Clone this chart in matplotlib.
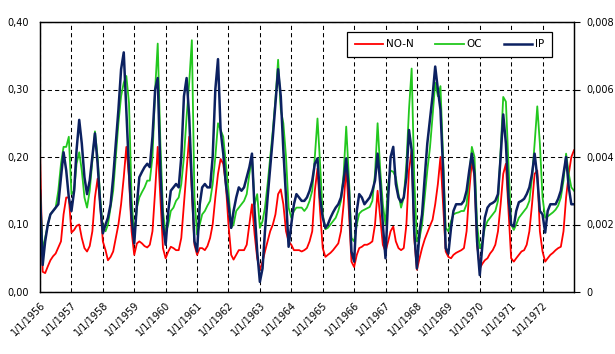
import pandas as pd
from matplotlib import pyplot as plt

# monthly values, 1956-01 .. 1973-01 (one row per year)
no_n = [
    0.21, 0.03, 0.028, 0.038, 0.047, 0.053, 0.057, 0.066, 0.075, 0.115, 0.14, 0.14,     # 1956
    0.088, 0.092, 0.098, 0.10, 0.08, 0.065, 0.06, 0.068, 0.09, 0.14, 0.168, 0.13,       # 1957
    0.075, 0.062, 0.047, 0.052, 0.06, 0.08, 0.10, 0.13, 0.17, 0.215, 0.17, 0.09,        # 1958
    0.055, 0.072, 0.075, 0.072, 0.068, 0.066, 0.07, 0.09, 0.15, 0.215, 0.14, 0.065,     # 1959
    0.05, 0.06, 0.067, 0.065, 0.062, 0.062, 0.08, 0.13, 0.18, 0.23, 0.15, 0.07,         # 1960
    0.055, 0.065, 0.065, 0.062, 0.068, 0.08, 0.10, 0.14, 0.175, 0.197, 0.19, 0.16,      # 1961
    0.10, 0.055, 0.048, 0.055, 0.062, 0.062, 0.062, 0.07, 0.10, 0.13, 0.085, 0.05,      # 1962
    0.033, 0.045, 0.06, 0.075, 0.09, 0.10, 0.115, 0.145, 0.152, 0.13, 0.09, 0.075,      # 1963
    0.07, 0.062, 0.062, 0.062, 0.06, 0.062, 0.065, 0.075, 0.09, 0.15, 0.183, 0.12,      # 1964
    0.065, 0.052, 0.055, 0.058, 0.062, 0.067, 0.072, 0.09, 0.13, 0.185, 0.12, 0.045,    # 1965
    0.037, 0.055, 0.065, 0.067, 0.07, 0.07, 0.072, 0.075, 0.10, 0.15, 0.11, 0.07,       # 1966
    0.06, 0.075, 0.09, 0.097, 0.075, 0.065, 0.062, 0.065, 0.10, 0.18, 0.21, 0.08,       # 1967
    0.033, 0.05, 0.065, 0.078, 0.088, 0.098, 0.107, 0.13, 0.16, 0.20, 0.13, 0.06,       # 1968
    0.052, 0.05, 0.055, 0.058, 0.06, 0.062, 0.065, 0.09, 0.15, 0.194, 0.17, 0.07,       # 1969
    0.035, 0.042, 0.047, 0.05, 0.057, 0.062, 0.07, 0.09, 0.13, 0.175, 0.19, 0.12,       # 1970
    0.05, 0.045, 0.05, 0.055, 0.06, 0.062, 0.07, 0.09, 0.13, 0.175, 0.18, 0.09,         # 1971
    0.06, 0.045, 0.05, 0.055, 0.058, 0.062, 0.065, 0.067, 0.09, 0.14, 0.175, 0.20,      # 1972
    0.21,                                                                               # 1973
]

oc = [
    0.15, 0.062, 0.08, 0.10, 0.115, 0.12, 0.125, 0.15, 0.19, 0.215, 0.215, 0.23,        # 1956
    0.145, 0.15, 0.19, 0.207, 0.18, 0.14, 0.125, 0.15, 0.195, 0.238, 0.20, 0.14,        # 1957
    0.095, 0.09, 0.10, 0.125, 0.15, 0.20, 0.25, 0.29, 0.31, 0.32, 0.28, 0.14,           # 1958
    0.08, 0.125, 0.14, 0.148, 0.155, 0.165, 0.165, 0.20, 0.30, 0.368, 0.22, 0.12,       # 1959
    0.087, 0.10, 0.12, 0.125, 0.135, 0.14, 0.16, 0.20, 0.26, 0.31, 0.373, 0.14,         # 1960
    0.085, 0.10, 0.115, 0.12, 0.128, 0.135, 0.16, 0.20, 0.25, 0.24, 0.23, 0.19,         # 1961
    0.15, 0.095, 0.10, 0.12, 0.125, 0.13, 0.135, 0.145, 0.175, 0.20, 0.13, 0.145,       # 1962
    0.095, 0.105, 0.125, 0.16, 0.20, 0.24, 0.285, 0.344, 0.27, 0.25, 0.20, 0.125,       # 1963
    0.11, 0.12, 0.125, 0.125, 0.125, 0.12, 0.125, 0.135, 0.15, 0.20, 0.257, 0.19,       # 1964
    0.115, 0.093, 0.095, 0.10, 0.105, 0.11, 0.12, 0.135, 0.175, 0.245, 0.17, 0.08,      # 1965
    0.075, 0.10, 0.116, 0.12, 0.122, 0.124, 0.126, 0.135, 0.175, 0.25, 0.18, 0.13,      # 1966
    0.10, 0.16, 0.18, 0.178, 0.17, 0.145, 0.125, 0.14, 0.19, 0.27, 0.331, 0.17,         # 1967
    0.075, 0.08, 0.10, 0.14, 0.18, 0.214, 0.26, 0.31, 0.29, 0.305, 0.20, 0.095,         # 1968
    0.09, 0.105, 0.115, 0.117, 0.118, 0.12, 0.12, 0.13, 0.17, 0.215, 0.20, 0.10,        # 1969
    0.065, 0.075, 0.095, 0.105, 0.11, 0.115, 0.12, 0.135, 0.21, 0.289, 0.282, 0.19,     # 1970
    0.10, 0.092, 0.10, 0.11, 0.115, 0.12, 0.125, 0.135, 0.17, 0.22, 0.275, 0.22,        # 1971
    0.14, 0.11, 0.112, 0.115, 0.118, 0.122, 0.128, 0.14, 0.165, 0.205, 0.175, 0.155,    # 1972
    0.15,                                                                               # 1973
]

ip = [
    0.0030, 0.0008, 0.0015, 0.0020, 0.0023, 0.0024, 0.0025, 0.0026, 0.0034, 0.00414, 0.0036, 0.0028,   # 1956
    0.0024, 0.0030, 0.0042, 0.0051, 0.0044, 0.0034, 0.0029, 0.0033, 0.0040, 0.0047, 0.0038, 0.0026,    # 1957
    0.00174, 0.0020, 0.0022, 0.0026, 0.0034, 0.0044, 0.0054, 0.0066, 0.0071, 0.0054, 0.0036, 0.0022,   # 1958
    0.00144, 0.0026, 0.0034, 0.00356, 0.0037, 0.0038, 0.0037, 0.0046, 0.0060, 0.00634, 0.0036, 0.0020, # 1959
    0.0014, 0.0024, 0.0030, 0.0031, 0.0032, 0.0031, 0.0040, 0.0058, 0.00634, 0.0052, 0.0032, 0.0015,   # 1960
    0.0012, 0.0026, 0.0031, 0.0032, 0.0031, 0.0031, 0.0040, 0.0060, 0.0069, 0.0048, 0.0041, 0.0032,    # 1961
    0.0026, 0.0019, 0.0024, 0.0028, 0.0031, 0.0030, 0.0031, 0.0034, 0.0037, 0.0041, 0.0024, 0.0012,    # 1962
    0.0003, 0.0007, 0.0018, 0.0028, 0.00368, 0.0046, 0.0056, 0.0066, 0.0058, 0.0042, 0.0028, 0.00134,  # 1963
    0.0020, 0.0026, 0.0029, 0.0028, 0.0027, 0.0027, 0.0028, 0.0030, 0.0033, 0.0038, 0.00396, 0.0028,   # 1964
    0.0022, 0.0019, 0.0020, 0.0022, 0.00236, 0.0025, 0.0026, 0.0028, 0.0033, 0.00396, 0.0030, 0.0012,  # 1965
    0.0009, 0.0024, 0.0029, 0.0028, 0.0026, 0.0027, 0.0028, 0.0030, 0.0033, 0.0041, 0.0032, 0.0020,    # 1966
    0.0010, 0.0028, 0.0040, 0.0043, 0.0032, 0.0028, 0.00266, 0.0028, 0.0034, 0.0048, 0.0042, 0.0018,   # 1967
    0.0007, 0.0018, 0.0023, 0.0034, 0.0044, 0.0051, 0.0058, 0.00668, 0.0060, 0.0054, 0.0036, 0.0013,   # 1968
    0.00114, 0.0019, 0.0024, 0.0026, 0.0026, 0.0026, 0.0027, 0.0030, 0.0036, 0.0041, 0.0035, 0.0015,   # 1969
    0.0005, 0.0014, 0.0022, 0.0025, 0.0026, 0.00264, 0.0027, 0.0029, 0.0040, 0.00526, 0.0044, 0.0028,  # 1970
    0.0020, 0.00194, 0.0024, 0.00266, 0.0027, 0.00276, 0.0029, 0.0031, 0.0035, 0.0041, 0.0034, 0.0024, # 1971
    0.0023, 0.00176, 0.0024, 0.0026, 0.0026, 0.0026, 0.00276, 0.0030, 0.0035, 0.0040, 0.0031, 0.0026,  # 1972
    0.0026,                                                                                            # 1973
]

years = list(range(1956, 1973))
xtick_labels = ["1/1/%d" % y for y in years]
left_ticks = [0.0, 0.1, 0.2, 0.3, 0.4]
left_labels = ["0,00", "0,10", "0,20", "0,30", "0,40"]
right_ticks = [0.0, 0.002, 0.004, 0.006, 0.008]
right_labels = ["0", "0,002", "0,004", "0,006", "0,008"]


def main():
    dates = pd.date_range("1956-01-01", "1973-01-01", freq="MS")

    fig = plt.figure(figsize=(6.15, 3.54), dpi=100)
    ax = fig.add_axes([40 / 615, 1 - 292 / 354, 534 / 615, 270 / 354])
    ax2 = ax.twinx()

    l1, = ax.plot(dates, no_n, color="#FF0000", lw=1.3, label="NO-N")
    l2, = ax.plot(dates, oc, color="#22C81E", lw=1.3, label="OC")
    l3, = ax2.plot(dates, ip, color="#0C2161", lw=1.8, label="IP")

    ax.set_xlim(pd.Timestamp("1956-01-01"), pd.Timestamp("1973-01-01"))
    ax.set_ylim(0, 0.4)
    ax2.set_ylim(0, 0.008)

    ax.set_xticks([pd.Timestamp("%d-01-01" % y) for y in years])
    ax.set_xticklabels(xtick_labels, rotation=45, ha="right", va="top",
                       rotation_mode="anchor", fontsize=7)
    ax.set_yticks(left_ticks)
    ax.set_yticklabels(left_labels, fontsize=7)
    ax2.set_yticks(right_ticks)
    ax2.set_yticklabels(right_labels, fontsize=7)

    ax.tick_params(axis="x", length=0, pad=6)
    ax.tick_params(axis="y", length=0, pad=8)
    ax2.tick_params(axis="y", length=4, width=0.8, pad=5, direction="out")

    ax.grid(True, color="black", lw=0.75, linestyle=(0, (4, 3)))
    ax.set_axisbelow(True)

    for a in (ax, ax2):
        for s in a.spines.values():
            s.set_linewidth(0.9)
            s.set_color("black")

    leg = ax2.legend([l1, l2, l3], ["NO-N", "OC", "IP"], ncol=3, fontsize=7.5,
                     loc="upper right", bbox_to_anchor=(552 / 615, 1 - 32 / 354),
                     bbox_transform=fig.transFigure, borderaxespad=0,
                     fancybox=False, edgecolor="black", framealpha=1,
                     handlelength=2.7, handletextpad=0.3, columnspacing=2.1,
                     borderpad=0.7)
    leg.get_frame().set_linewidth(0.9)

    fig.savefig("out.png", dpi=100)


if __name__ == "__main__":
    main()
